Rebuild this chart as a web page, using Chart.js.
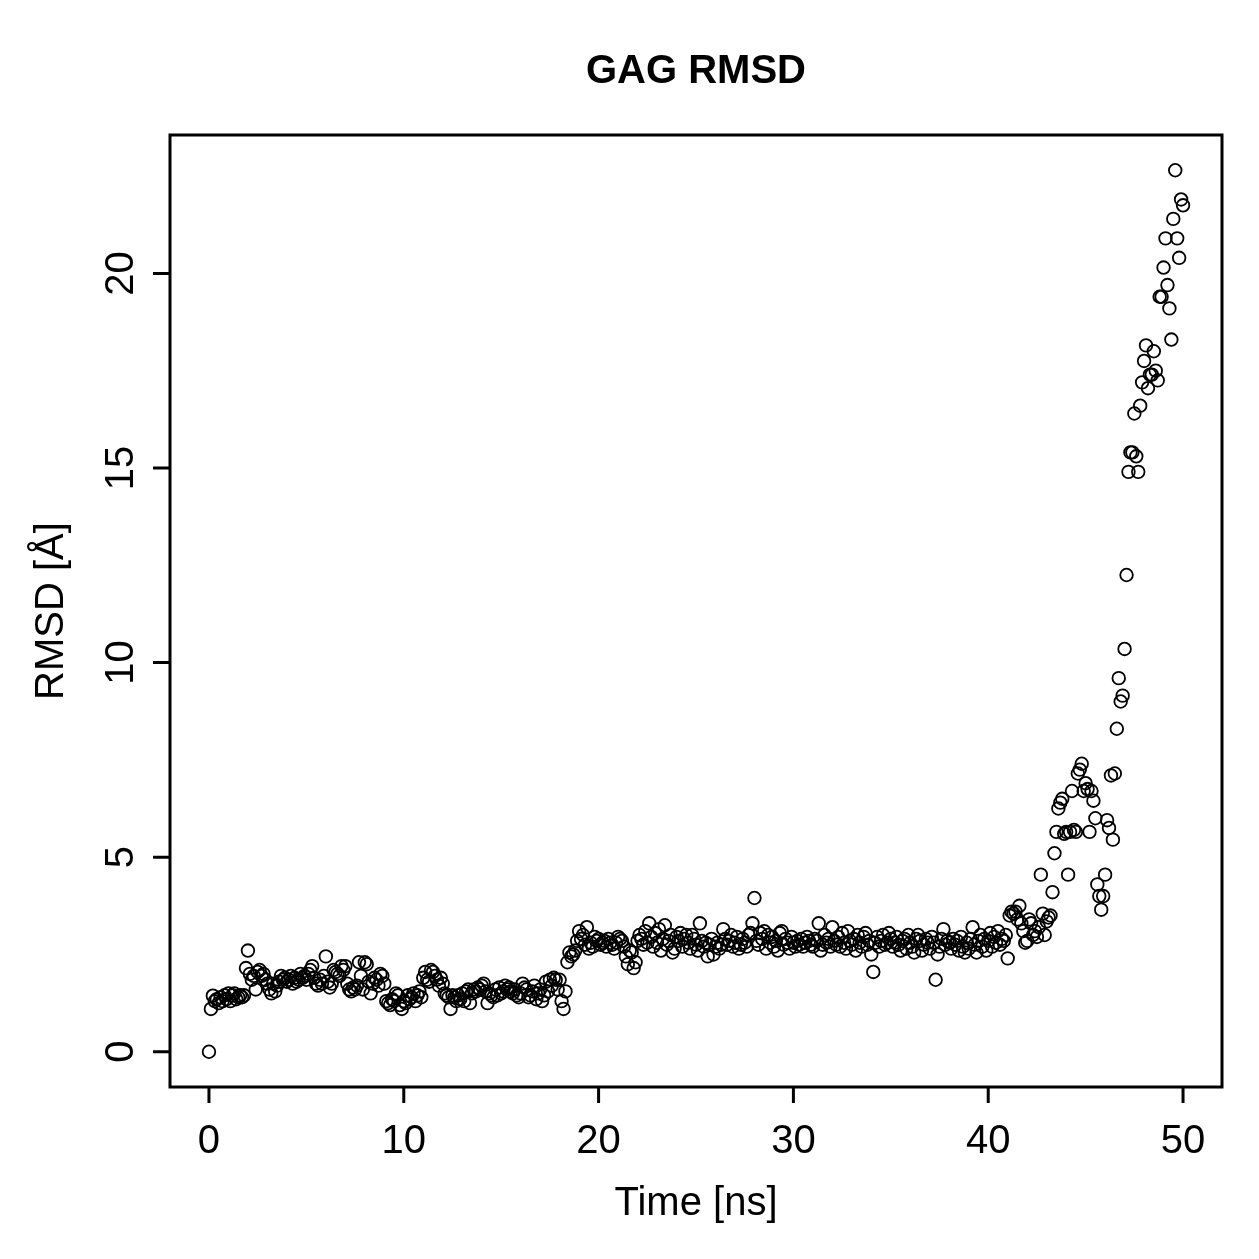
<!DOCTYPE html>
<html>
<head>
<meta charset="utf-8">
<title>GAG RMSD</title>
<script src="https://cdn.jsdelivr.net/npm/chart.js@4.4.1/dist/chart.umd.min.js"></script>
<style>
  html, body { margin: 0; padding: 0; background: #ffffff; }
  #wrap { width: 1259px; height: 1259px; }
</style>
</head>
<body>
<div id="wrap"><canvas id="myChart" width="1259" height="1259"></canvas></div>
<script>
// Testi del grafico
const chartTitle = "GAG RMSD";
const xTitle = "Time [ns]";
const yTitle = "RMSD [Å]";

// Tick degli assi
const xTicks = [0, 10, 20, 30, 40, 50];
const yTicks = [0, 5, 10, 15, 20];

// Passo temporale della traiettoria (ns)
const timeStep = 0.1;

// Valori RMSD, una riga per ogni ns
const rmsd = [
  0.0, 1.1, 1.44, 1.3, 1.35, 1.25, 1.4, 1.3, 1.45, 1.35,        // 0
  1.5, 1.3, 1.45, 1.5, 1.35, 1.4, 1.45, 1.4, 1.45, 2.15,        // 1
  2.6, 2.0, 1.85, 1.95, 1.6, 2.05, 2.1, 1.95, 2.0, 1.85,        // 2
  1.75, 1.6, 1.5, 1.75, 1.55, 1.7, 1.8, 1.95, 1.85, 1.9,        // 3
  1.8, 1.85, 1.95, 1.75, 1.9, 1.8, 1.85, 2.0, 1.9, 1.95,        // 4
  1.85, 2.0, 2.1, 2.2, 1.9, 1.75, 1.7, 1.85, 1.75, 1.95,        // 5
  2.45, 1.8, 1.65, 1.75, 2.1, 2.05, 2.0, 1.95, 2.2, 2.1,        // 6
  2.2, 1.75, 1.6, 1.55, 1.65, 1.6, 1.7, 2.3, 1.95, 1.6,         // 7
  2.3, 2.25, 1.8, 1.5, 1.75, 1.9, 1.85, 1.7, 2.0, 1.95,         // 8
  1.75, 1.3, 1.25, 1.2, 1.35, 1.3, 1.5, 1.45, 1.2, 1.1,         // 9
  1.3, 1.25, 1.45, 1.35, 1.4, 1.5, 1.3, 1.45, 1.55, 1.4,        // 10
  1.9, 2.05, 1.85, 1.8, 2.1, 2.05, 1.95, 1.85, 1.7, 1.9,        // 11
  1.75, 1.5, 1.45, 1.4, 1.1, 1.45, 1.4, 1.3, 1.45, 1.35,        // 12
  1.5, 1.3, 1.55, 1.6, 1.25, 1.5, 1.6, 1.55, 1.65, 1.6,         // 13
  1.7, 1.75, 1.55, 1.25, 1.5, 1.45, 1.4, 1.6, 1.45, 1.65,       // 14
  1.5, 1.55, 1.7, 1.6, 1.65, 1.55, 1.5, 1.6, 1.45, 1.4,         // 15
  1.5, 1.75, 1.65, 1.6, 1.4, 1.45, 1.55, 1.7, 1.35, 1.5,        // 16
  1.6, 1.3, 1.45, 1.8, 1.55, 1.85, 1.7, 1.9, 1.85, 1.6,         // 17
  1.85, 1.3, 1.1, 1.55, 2.3, 2.55, 2.45, 2.5, 2.6, 2.85,        // 18
  3.1, 2.9, 3.0, 2.75, 3.2, 2.65, 2.8, 2.7, 2.95, 2.85,         // 19
  2.9, 2.75, 2.8, 2.85, 2.7, 2.9, 2.8, 2.75, 2.65, 2.8,         // 20
  2.95, 2.9, 2.85, 2.7, 2.45, 2.25, 2.6, 2.55, 2.15, 2.3,       // 21
  2.85, 3.0, 2.9, 2.75, 3.1, 2.8, 3.3, 2.95, 2.7, 3.05,         // 22
  2.8, 3.15, 2.6, 2.9, 3.25, 2.75, 2.85, 3.0, 2.55, 2.65,       // 23
  2.95, 2.85, 3.05, 2.7, 2.9, 3.0, 2.8, 2.65, 3.0, 2.9,         // 24
  2.75, 2.6, 3.3, 2.85, 2.7, 2.8, 2.45, 2.75, 2.9, 2.5,         // 25
  2.7, 2.8, 2.65, 2.75, 3.15, 2.9, 2.75, 2.85, 3.0, 2.7,        // 26
  2.8, 2.95, 2.65, 2.75, 2.9, 2.8, 2.7, 3.0, 3.05, 3.3,         // 27
  3.95, 2.85, 2.75, 3.05, 2.9, 3.1, 2.65, 3.0, 2.8, 2.95,       // 28
  2.7, 2.85, 2.6, 3.05, 3.1, 2.75, 2.9, 2.8, 2.65, 2.95,        // 29
  2.8, 2.7, 2.85, 2.75, 2.9, 2.7, 2.8, 2.95, 2.85, 2.75,        // 30
  2.7, 2.9, 2.85, 3.3, 2.6, 2.75, 3.0, 2.8, 2.9, 2.7,           // 31
  3.2, 2.85, 2.75, 2.95, 2.7, 3.05, 2.8, 2.65, 3.1, 2.85,       // 32
  2.75, 2.9, 2.6, 3.0, 2.8, 2.7, 2.95, 3.05, 2.75, 2.85,        // 33
  2.5, 2.05, 2.8, 2.95, 2.7, 2.85, 3.0, 2.75, 2.8, 3.05,        // 34
  2.9, 2.7, 2.8, 2.95, 2.75, 2.6, 2.85, 2.9, 2.65, 3.0,         // 35
  2.8, 2.7, 2.55, 2.9, 3.0, 2.85, 2.6, 2.75, 2.9, 2.8,          // 36
  2.65, 2.95, 2.8, 1.85, 2.5, 2.7, 2.9, 3.15, 2.75, 2.85,       // 37
  2.8, 2.65, 2.9, 2.75, 2.85, 2.6, 2.95, 2.7, 2.55, 2.8,        // 38
  2.65, 2.9, 3.2, 2.75, 2.55, 2.85, 3.0, 2.7, 2.9, 2.6,         // 39
  2.85, 3.05, 2.7, 2.95, 2.8, 3.1, 2.75, 2.9, 2.85, 3.0,        // 40
  2.4, 3.5, 3.6, 3.55, 3.6, 3.4, 3.75, 3.3, 3.1, 2.8,           // 41
  2.85, 3.4, 3.3, 3.0, 3.1, 2.95, 3.2, 4.55, 3.55, 3.0,         // 42
  3.35, 3.45, 3.5, 4.1, 5.1, 5.65, 6.25, 6.4, 6.5, 5.6,         // 43
  5.65, 4.55, 5.65, 6.7, 5.7, 5.65, 7.15, 7.25, 7.4, 6.7,       // 44
  6.9, 6.75, 5.65, 6.7, 6.45, 6.0, 4.3, 4.0, 3.65, 4.0,         // 45
  4.55, 5.95, 5.75, 7.1, 5.45, 7.15, 8.3, 9.6, 9.0, 9.15,       // 46
  10.35, 12.25, 14.9, 15.4, 15.4, 16.4, 15.3, 14.9, 16.6, 17.2, // 47
  17.75, 18.15, 17.05, 17.4, 17.4, 18.0, 17.5, 17.25, 19.4, 19.4, // 48
  20.15, 20.9, 19.7, 19.1, 18.3, 21.4, 22.65, 20.9, 20.4, 21.9, // 49
  21.75                                                          // 50
];

// Costruisce i punti (tempo, RMSD) per lo scatter
const points = rmsd.map((v, i) => ({ x: Math.round(i * timeStep * 10) / 10, y: v }));

// Limiti come in R: intervallo dei dati esteso del 4%
const xMin = -2, xMax = 52;
const yMin = -0.906, yMax = 23.556;

const fontFamily = "'Liberation Sans', Arial, Helvetica, sans-serif";

// Plugin che disegna riquadro, assi e testi in stile R
const rAxesPlugin = {
  id: "rAxes",
  afterDraw(chart) {
    const ctx = chart.ctx;
    const ca = chart.chartArea;
    const xs = chart.scales.x;
    const ys = chart.scales.y;
    ctx.save();
    ctx.strokeStyle = "#000";
    ctx.fillStyle = "#000";
    ctx.lineWidth = 3;
    ctx.strokeRect(ca.left, ca.top, ca.right - ca.left, ca.bottom - ca.top);

    // Asse x
    ctx.font = "40px " + fontFamily;
    ctx.textAlign = "center";
    ctx.textBaseline = "alphabetic";
    ctx.beginPath();
    for (const v of xTicks) {
      const px = xs.getPixelForValue(v);
      ctx.moveTo(px, ca.bottom);
      ctx.lineTo(px, ca.bottom + 16);
    }
    ctx.stroke();
    for (const v of xTicks) {
      ctx.fillText(String(v), xs.getPixelForValue(v), ca.bottom + 66);
    }

    // Asse y (etichette ruotate)
    ctx.beginPath();
    for (const v of yTicks) {
      const py = ys.getPixelForValue(v);
      ctx.moveTo(ca.left, py);
      ctx.lineTo(ca.left - 17, py);
    }
    ctx.stroke();
    for (const v of yTicks) {
      ctx.save();
      ctx.translate(ca.left - 37, ys.getPixelForValue(v));
      ctx.rotate(-Math.PI / 2);
      ctx.fillText(String(v), 0, 0);
      ctx.restore();
    }

    // Titoli degli assi
    const midX = (ca.left + ca.right) / 2;
    const midY = (ca.top + ca.bottom) / 2;
    ctx.fillText(xTitle, midX, ca.bottom + 128);
    ctx.save();
    ctx.translate(ca.left - 107, midY);
    ctx.rotate(-Math.PI / 2);
    ctx.fillText(yTitle, 0, 0);
    ctx.restore();

    // Titolo principale
    ctx.font = "bold 40px " + fontFamily;
    ctx.fillText(chartTitle, midX, 83);
    ctx.restore();
  }
};

const ctx = document.getElementById("myChart");
new Chart(ctx, {
  type: "scatter",
  data: {
    datasets: [{
      label: "RMSD",
      data: points,
      pointStyle: "circle",
      pointRadius: 6.3,
      pointHoverRadius: 6.3,
      pointBorderWidth: 1.8,
      borderColor: "#000000",
      backgroundColor: "rgba(0,0,0,0)",
    }],
  },
  options: {
    responsive: false,
    animation: false,
    events: [],
    layout: {
      padding: { left: 170, right: 37, top: 135, bottom: 172 },
    },
    plugins: {
      legend: { display: false },
      tooltip: { enabled: false },
      title: { display: false },
    },
    scales: {
      x: { type: "linear", min: xMin, max: xMax, display: false },
      y: { type: "linear", min: yMin, max: yMax, display: false },
    },
  },
  plugins: [rAxesPlugin],
});
</script>
</body>
</html>
